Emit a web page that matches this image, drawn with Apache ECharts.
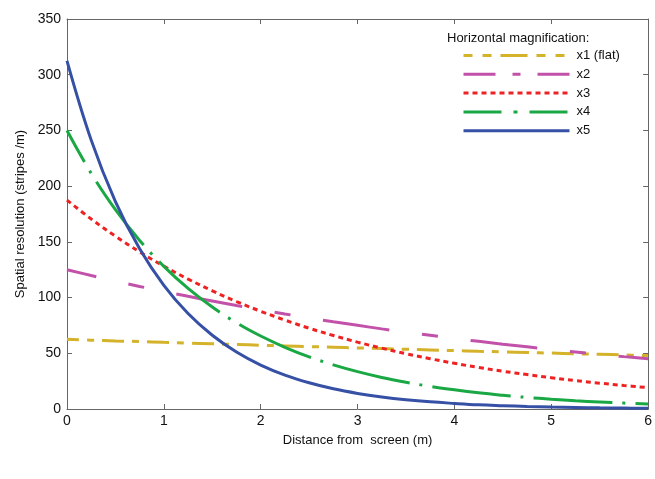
<!DOCTYPE html>
<html>
<head>
<meta charset="utf-8">
<script src="https://cdn.jsdelivr.net/npm/echarts@6/dist/echarts.min.js"></script>
<style>
  html, body { margin: 0; padding: 0; background: #fff; }
  #chart { width: 655px; height: 479px; }
</style>
</head>
<body>
<div id="chart"></div>
<script>
// distance from screen (m)
const distances = [0, 0.25, 0.5, 0.75, 1, 1.25, 1.5, 1.75, 2, 2.25, 2.5, 2.75, 3,
  3.25, 3.5, 3.75, 4, 4.25, 4.5, 4.75, 5, 5.25, 5.5, 5.75, 6]

// spatial resolution (stripes /m)
const x1Flat = [62.5, 61.8, 61.1, 60.5, 59.8, 59.2, 58.5, 57.9, 57.2, 56.6, 56.0, 55.4, 54.8,
  54.2, 53.6, 53.0, 52.4, 51.8, 51.3, 50.7, 50.2, 49.6, 49.1, 48.5, 48.0]
const x2 = [125, 119.8, 114.8, 110.0, 105.5, 101.1, 96.9, 92.8, 89.0, 85.3, 81.7, 78.3, 75.1,
  71.9, 69.0, 66.1, 63.3, 60.7, 58.2, 55.8, 53.4, 51.2, 49.1, 47.0, 45.1]
const x3 = [187.5, 170.5, 155.1, 141.0, 128.2, 116.6, 106.1, 96.4, 87.7, 79.8, 72.5, 66.0, 60.0,
  54.6, 49.6, 45.1, 41.0, 37.3, 33.9, 30.9, 28.1, 25.5, 23.2, 21.1, 19.2]
const x4 = [250, 211.5, 178.9, 151.3, 128.0, 108.2, 91.5, 77.4, 65.5, 55.4, 46.8, 39.6, 33.5,
  28.3, 24.0, 20.3, 17.2, 14.5, 12.3, 10.4, 8.8, 7.4, 6.3, 5.3, 4.5]
const x5 = [312.5, 241.3, 186.2, 143.8, 111.0, 85.7, 66.2, 51.1, 39.4, 30.4, 23.5, 18.1, 14.0,
  10.8, 8.3, 6.4, 5.0, 3.8, 3.0, 2.3, 1.8, 1.4, 1.05, 0.8, 0.6]

const seriesNames = ['x1 (flat)', 'x2', 'x3', 'x4', 'x5']

const pairs = (ys) => distances.map((d, i) => [d, ys[i]])

const font = 'Liberation Sans, Arial, sans-serif'
const axisColor = '#666'

const mycharts = echarts.init(document.getElementById('chart'))

const lineSeries = (name, ys, color, dash, offset) => ({
  name: name,
  type: 'line',
  data: pairs(ys),
  smooth: 0.4,
  symbol: 'none',
  lineStyle: { color: color, width: 3, type: dash, dashOffset: offset, cap: 'butt' },
  itemStyle: { color: color },
})

// the legend samples use shorter dash patterns than the curves
const legendItem = (name, color, dash) => ({
  name: name,
  lineStyle: { color: color, width: 3, type: dash, dashOffset: 0, cap: 'butt' },
})

const tickAxis = (extra) => Object.assign({
  type: 'value',
  axisLine: { show: true, onZero: false, lineStyle: { color: axisColor, width: 1 } },
  axisTick: { show: true, inside: true, length: 5, lineStyle: { color: axisColor } },
  splitLine: { show: false },
}, extra)

mycharts.setOption({
  animation: false,
  title: {
    text: 'Horizontal magnification:',
    left: 442,
    top: 27,
    textStyle: { fontFamily: font, fontSize: 13, fontWeight: 'normal', color: '#111' },
  },
  legend: {
    orient: 'vertical',
    left: 457,
    top: 44,
    itemWidth: 106,
    itemHeight: 14,
    itemGap: 5.8,
    itemStyle: { opacity: 0 },
    textStyle: { fontFamily: font, fontSize: 13, color: '#111', padding: [0, 0, 0, 2] },
    data: [
      legendItem(seriesNames[0], '#d4b22a', [9, 10, 9, 9, 27, 9]),
      legendItem(seriesNames[1], '#c252a9', [32, 17, 8, 17]),
      legendItem(seriesNames[2], '#ee2222', [5, 4]),
      legendItem(seriesNames[3], '#1aa844', [38, 12, 4, 12]),
      legendItem(seriesNames[4], '#3550a5', 'solid'),
    ],
  },
  grid: { left: 67, right: 3, top: 19, bottom: 70 },
  xAxis: [
    tickAxis({
      min: 0, max: 6, interval: 1,
      name: 'Distance from  screen (m)',
      nameLocation: 'middle',
      nameGap: 25,
      nameTextStyle: { fontFamily: font, fontSize: 13, color: '#111' },
      axisLabel: { fontFamily: font, fontSize: 14, color: '#111', margin: 5 },
    }),
    tickAxis({ min: 0, max: 6, interval: 1, position: 'top', axisLabel: { show: false } }),
  ],
  yAxis: [
    tickAxis({
      min: 0, max: 350, interval: 50,
      name: 'Spatial resolution (stripes /m)',
      nameLocation: 'middle',
      nameGap: 40,
      nameTextStyle: { fontFamily: font, fontSize: 13, color: '#111' },
      axisLabel: { fontFamily: font, fontSize: 14, color: '#111', margin: 6 },
    }),
    tickAxis({ min: 0, max: 350, interval: 50, position: 'right', axisLabel: { show: false } }),
  ],
  series: [
    lineSeries(seriesNames[0], x1Flat, '#d4b22a', [22, 8, 7, 8], 10),
    lineSeries(seriesNames[1], x2, '#c252a9', [67, 33, 16, 33], 37),
    lineSeries(seriesNames[2], x3, '#ee2222', [5, 4], 0),
    lineSeries(seriesNames[3], x4, '#1aa844', [79, 10, 3, 10], 43),
    lineSeries(seriesNames[4], x5, '#3550a5', 'solid', 0),
  ],
})
</script>
</body>
</html>
